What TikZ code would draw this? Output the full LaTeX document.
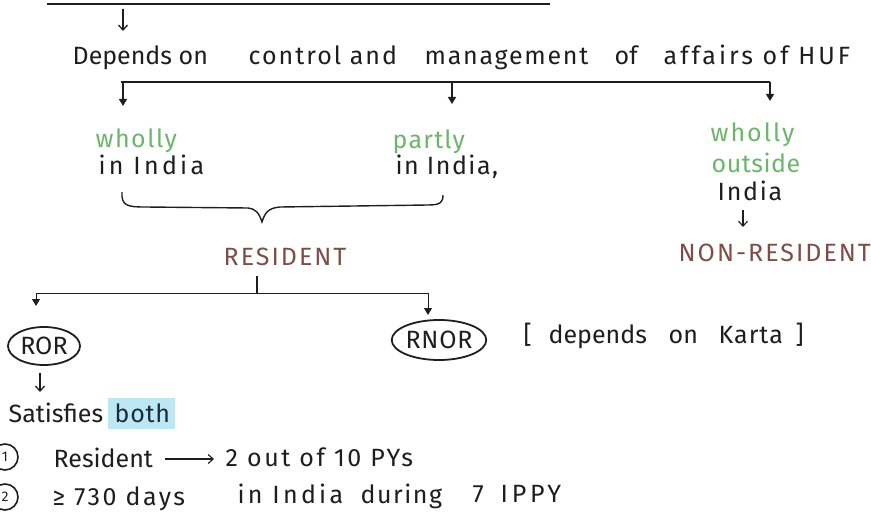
\documentclass[tikz,border=0pt]{standalone}
\usepackage{fontspec}
\setmainfont{Fira Sans}
\usetikzlibrary{arrows.meta,shapes.geometric}
\definecolor{hgreen}{HTML}{6DB56D}
\definecolor{hbrown}{HTML}{7D4E48}
\definecolor{hblue}{HTML}{BDE8F2}
\definecolor{ink}{HTML}{1E1E1E}
\definecolor{navy}{HTML}{1A2A40}
\newcommand{\ls}[2]{{\addfontfeatures{LetterSpace=#1}#2}}
\begin{document}
\begin{tikzpicture}[x=1pt,y=-1pt,line width=1.3pt,draw=ink,text=ink,
  w/.style={anchor=base west,inner sep=0pt,font=\fontsize{25}{30}\selectfont},
  g/.style={w,text=hgreen},
  caps/.style={w,text=hbrown,font=\fontsize{25}{30}\selectfont\addfontfeatures{LetterSpace=8}},
  openarr/.style={-{Straight Barb[length=5pt,width=9pt]},line width=1.3pt},
  fillarr/.style={-{Triangle[length=7pt,width=8pt]},line width=1.3pt},
  oval/.style={ellipse,draw,line width=1.8pt,inner sep=0pt,font=\fontsize{25}{30}\selectfont},
  num/.style={circle,draw,line width=1.6pt,inner sep=0pt,minimum size=26pt,font=\fontsize{14}{16}\selectfont}]
\useasboundingbox (0,0) rectangle (871,527);

% top line and arrow
\coordinate (tl) at (47,4);
\coordinate (tr) at (550,4);
\draw (tl) -- (tr);
\coordinate (a0s) at (123,9);
\coordinate (a0e) at (123,31);
\draw[openarr] (a0s) -- (a0e);

% main sentence
\node[w] (dep) at (72,65) {Depends on};
\node[w] (ctrl) at (248,65) {\ls{8}{control and}};
\node[w] (mgmt) at (424,65) {\ls{7}{management}};
\node[w] (of) at (614,65) {of};
\node[w] (aff) at (663,65) {\ls{12}{affairs of HUF}};

% branch line
\coordinate (b1) at (121,82);
\coordinate (b2) at (452,82);
\coordinate (b3) at (770,82);
\draw (b1) -- (b3);
\coordinate (b1s) at (123,82);
\coordinate (b1e) at (123,106);
\coordinate (b2e) at (452,104);
\coordinate (b3e) at (770,101);
\draw[fillarr] (b1s) -- (b1e);
\draw[fillarr] (b2) -- (b2e);
\draw[fillarr] (b3) -- (b3e);

% left branch
\node[g] (wh1) at (95,147) {\ls{6}{wholly}};
\node[w] (in1) at (98,175) {\ls{13}{in India}};
% middle branch
\node[g] (pa) at (392,148) {\ls{5}{partly}};
\node[w] (in2) at (395,175) {\ls{6}{in India,}};
% right branch
\node[g] (wh3) at (710,142) {\ls{8}{wholly}};
\node[g] (out) at (711,172) {\ls{2}{outside}};
\node[w] (in3) at (717,200) {\ls{7}{India}};
\coordinate (r1) at (743,210);
\coordinate (r2) at (743,227);
\draw[openarr,line width=1.1pt] (r1) -- (r2);
\node[caps] (nonres) at (678,261) {NON-RESIDENT};

% brace
\draw[line width=1.4pt] (122,192) .. controls (121,206) and (128,207) .. (145,207)
  -- (248,208) .. controls (256,209) and (259,213) .. (262,222)
  .. controls (265,212) and (269,208) .. (280,207)
  -- (428,205) .. controls (441,205) and (443,202) .. (443,195);

\node[caps] (res) at (223,265) {RESIDENT};

% split below RESIDENT
\coordinate (t1) at (257,276);
\coordinate (t2) at (257,293);
\draw (t1) -- (t2);
\coordinate (s1) at (36,293);
\coordinate (s2) at (428,293);
\coordinate (s1e) at (36,306);
\coordinate (s2e) at (428,315);
\draw[line width=1pt] (s1) -- (s2);
\draw[fillarr,line width=1pt] (s1) -- (s1e);
\draw[fillarr,line width=1pt] (s2) -- (s2e);

\node[oval,minimum width=72pt,minimum height=38pt] (ror) at (44,346) {ROR};
\node[oval,minimum width=92pt,minimum height=40pt] (rnor) at (439,340) {\ls{3}{RNOR}};
\node[w] (lb) at (523,343) {[};
\node[w] (kd) at (548,343) {depends};
\node[w] (ko) at (668,343) {on};
\node[w] (kk) at (718,343) {\ls{4}{Karta}};
\node[w] (rb) at (795,343) {]};

% ROR arrow
\coordinate (ra) at (40,373);
\coordinate (rb2) at (40,392);
\draw[openarr] (ra) -- (rb2);

% satisfies both
\fill[hblue] (108,398) rectangle (175,429);
\node[w] (sat) at (8,422) {Satisfies};
\node[w,text=navy] (both) at (114,422) {\ls{3}{both}};

% condition 1
\node[num] (c1) at (5,457) {1};
\node[w] (resid) at (53,467) {Resident};
\coordinate (la) at (165,459);
\coordinate (lb2) at (214,459);
\draw[openarr,line width=1.1pt] (la) -- (lb2);
\node[w] (two) at (225,466) {\ls{10}{2 out of 10 PYs}};

% condition 2
\node[num] (c2) at (5,497) {2};
\node[w] (days) at (52,505) {\ls{10}{≥ 730 days}};
\node[w] (ind) at (237,503) {\ls{13}{in India}};
\node[w] (dur) at (360,503) {\ls{6}{during}};
\node[w] (seven) at (472,502) {7};
\node[w] (ippy) at (500,502) {\ls{15}{IPPY}};
\end{tikzpicture}
\end{document}
